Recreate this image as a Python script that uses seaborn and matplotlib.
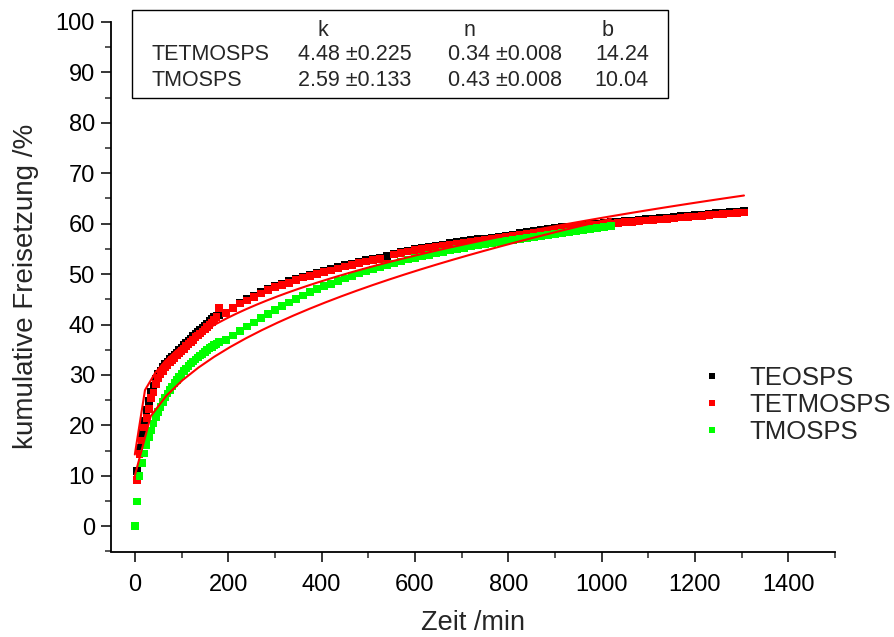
import numpy as np
import pandas as pd
import matplotlib
matplotlib.use("Agg")
import matplotlib.pyplot as plt
from matplotlib.lines import Line2D
from matplotlib.patches import Rectangle
from matplotlib.ticker import MultipleLocator
import seaborn as sns

# ---- sampling schedule (min): every 5 min for 3 h, then every 15 min ----
t_early = np.arange(0, 181, 5)
t_late_long = np.arange(195, 1306, 15)   # TEOSPS / TETMOSPS
t_late_short = np.arange(195, 1021, 15)  # TMOSPS

# ---- cumulative release (%) ----
teosps_early = [
    0.0, 11.0, 15.5, 18.5, 21.0, 23.0, 24.8, 26.6, 27.8, 29.2,
    30.2, 30.9, 31.6, 32.2, 32.7, 33.2, 33.7, 34.1, 34.5, 35.0,
    35.4, 35.9, 36.3, 36.8, 37.2, 37.7, 38.1, 38.5, 38.9, 39.3,
    39.8, 40.2, 40.7, 41.1, 41.6, 41.8, 41.9,
]
teosps_late = [
    42.4, 43.4, 44.4, 45.1, 45.8, 46.5, 47.1, 47.6, 48.1, 48.6,
    49.1, 49.5, 49.9, 50.3, 50.7, 51.0, 51.4, 51.8, 52.1, 52.4,
    52.8, 53.0, 53.3, 53.6, 54.1, 54.4, 54.7, 55.0, 55.3, 55.5,
    55.7, 55.9, 56.2, 56.4, 56.6, 56.8, 57.0, 57.1, 57.3, 57.5,
    57.7, 57.9, 58.1, 58.3, 58.5, 58.7, 58.9, 59.1, 59.3, 59.4,
    59.6, 59.8, 59.9, 60.0, 60.1, 60.3, 60.4, 60.5, 60.6, 60.7,
    60.9, 61.0, 61.1, 61.2, 61.3, 61.5, 61.6, 61.7, 61.8, 62.0,
    62.1, 62.2, 62.3, 62.4, 62.5,
]
tetmosps_early = [
    0.0, 9.2, 14.3, 17.0, 19.6, 21.5, 23.3, 25.4, 26.5, 28.2,
    29.4, 30.2, 30.8, 31.5, 32.0, 32.5, 33.0, 33.4, 33.9, 34.3,
    34.8, 35.2, 35.7, 36.1, 36.6, 37.0, 37.5, 37.8, 38.2, 38.6,
    39.0, 39.5, 39.9, 40.4, 40.9, 41.5, 43.3,
]
tetmosps_late = [
    42.3, 43.3, 44.2, 44.8, 45.5, 46.2, 46.8, 47.4, 47.8, 48.3,
    48.8, 49.3, 49.6, 50.0, 50.4, 50.7, 51.1, 51.5, 51.8, 52.2,
    52.5, 52.8, 53.0, 52.1, 53.9, 54.2, 54.5, 54.8, 55.0, 55.3,
    55.5, 55.7, 55.9, 56.1, 56.3, 56.5, 56.7, 56.9, 57.0, 57.2,
    57.4, 57.6, 57.8, 58.0, 58.2, 58.4, 58.6, 58.8, 59.0, 59.2,
    59.4, 59.5, 59.7, 59.8, 59.9, 60.0, 60.2, 60.3, 60.4, 60.5,
    60.6, 60.7, 60.8, 60.9, 61.0, 61.2, 61.3, 61.4, 61.5, 61.7,
    61.8, 61.9, 62.0, 62.1, 62.2,
]
tmosps_early = [
    0.0, 4.9, 10.0, 12.6, 14.4, 16.1, 17.6, 19.0, 20.4, 21.6,
    22.7, 23.7, 24.7, 25.5, 26.3, 27.0, 27.7, 28.4, 29.0, 29.6,
    30.2, 30.8, 31.3, 31.8, 32.3, 32.7, 33.1, 33.5, 33.9, 34.2,
    34.6, 34.9, 35.3, 35.6, 35.9, 36.2, 36.5,
]
tmosps_late = [
    36.9, 37.8, 38.7, 39.6, 40.4, 41.3, 42.1, 42.9, 43.7, 44.4,
    45.1, 45.8, 46.4, 47.0, 47.6, 48.1, 48.6, 49.1, 49.6, 50.1,
    50.5, 50.9, 51.3, 51.7, 52.1, 52.5, 52.9, 53.2, 53.5, 53.8,
    54.1, 54.4, 54.7, 55.0, 55.2, 55.5, 55.7, 56.0, 56.2, 56.4,
    56.6, 56.8, 57.0, 57.2, 57.4, 57.6, 57.8, 58.0, 58.2, 58.4,
    58.6, 58.8, 59.0, 59.2, 59.4, 59.5,
]

samples = ["TEOSPS", "TETMOSPS", "TMOSPS"]
colors = {"TEOSPS": "#000000", "TETMOSPS": "#ff0000", "TMOSPS": "#00ff00"}

# ---- power-law fit parameters  y = k * t^n + b ----
fit_names = ["TETMOSPS", "TMOSPS"]
fit_k = [4.48, 2.59]
fit_k_err = [0.225, 0.133]
fit_n = [0.34, 0.43]
fit_n_err = [0.008, 0.008]
fit_b = [14.24, 10.04]
fit_tmax = [1305, 1020]
fit_npts = [61, 31]

frames = []
for name, t_late, early, late in [
    ("TEOSPS", t_late_long, teosps_early, teosps_late),
    ("TETMOSPS", t_late_long, tetmosps_early, tetmosps_late),
    ("TMOSPS", t_late_short, tmosps_early, tmosps_late),
]:
    t = np.concatenate([t_early, t_late])
    y = np.array(early + late)
    frames.append(pd.DataFrame({"Zeit": t, "Freisetzung": y, "Probe": name}))
df = pd.concat(frames, ignore_index=True)

sns.set_style("ticks")
plt.rcParams["font.family"] = ["Liberation Sans", "DejaVu Sans"]

W, H = 895, 637
fig = plt.figure(figsize=(W / 100, H / 100), dpi=100)
ax = fig.add_axes([111.5 / W, 1 - 551.5 / H, (835 - 111.5) / W, (551.5 - 22) / H])

sns.scatterplot(
    data=df, x="Zeit", y="Freisetzung", hue="Probe", hue_order=samples,
    palette=colors, marker="s", s=30, linewidth=0, ax=ax, legend=False,
    zorder=2,
)

for name, k, n, b, tmax, npts in zip(fit_names, fit_k, fit_n, fit_b, fit_tmax, fit_npts):
    tt = np.linspace(0, tmax, npts)
    ax.plot(tt, k * tt ** n + b, color="#ff0000", lw=1.5, zorder=3)

ax.set_xlim(-50, 1500)
ax.set_ylim(-5, 100)
ax.xaxis.set_major_locator(MultipleLocator(200))
ax.xaxis.set_minor_locator(MultipleLocator(100))
ax.yaxis.set_major_locator(MultipleLocator(10))
ax.yaxis.set_minor_locator(MultipleLocator(5))
ax.tick_params(which="major", length=7, width=1.1, direction="out",
               labelsize=17, colors="black")
ax.tick_params(axis="x", which="major", pad=9)
ax.tick_params(axis="y", which="major", pad=5)
ax.tick_params(which="minor", length=4, width=1.1, direction="out")
for side in ["top", "right"]:
    ax.spines[side].set_visible(False)
for side in ["left", "bottom"]:
    ax.spines[side].set_linewidth(1.3)
    ax.spines[side].set_color("black")

ax.set_xlabel("Zeit /min", fontsize=19.5, labelpad=10)
ax.set_ylabel("kumulative Freisetzung /%", fontsize=20, labelpad=12)

# legend
handles = [Line2D([], [], ls="none", marker="s", markersize=4.8,
                  markerfacecolor=colors[s], markeredgewidth=0) for s in samples]
fig.legend(handles, samples, loc="center left",
           bbox_to_anchor=(699 / W, 1 - 405 / H), frameon=False,
           fontsize=18.5, handlelength=1.0, handletextpad=0.95,
           labelspacing=0.1, borderpad=0, borderaxespad=0)

# fit-parameter table
def fx(px):
    return px / W

def fy(py):
    return 1 - py / H

fig.add_artist(Rectangle((fx(132), fy(98)), fx(668) - fx(132), fy(10) - fy(98),
                         transform=fig.transFigure, fill=False,
                         edgecolor="black", linewidth=1.0))
tfs = 15.5
fig.text(fx(323), fy(30), "k", ha="center", va="center", fontsize=tfs)
fig.text(fx(470), fy(30), "n", ha="center", va="center", fontsize=tfs)
fig.text(fx(608), fy(30), "b", ha="center", va="center", fontsize=tfs)
for row_y, name, k, ke, n, ne, b in zip([54, 80], fit_names, fit_k, fit_k_err,
                                        fit_n, fit_n_err, fit_b):
    fig.text(fx(152), fy(row_y), name, ha="left", va="center", fontsize=tfs)
    fig.text(fx(298), fy(row_y), f"{k:.2f} \u00b1{ke:.3f}", ha="left", va="center", fontsize=tfs)
    fig.text(fx(448), fy(row_y), f"{n:.2f} \u00b1{ne:.3f}", ha="left", va="center", fontsize=tfs)
    fig.text(fx(649), fy(row_y), f"{b:.2f}", ha="right", va="center", fontsize=tfs)

fig.savefig("out.png", dpi=100, facecolor="white")
